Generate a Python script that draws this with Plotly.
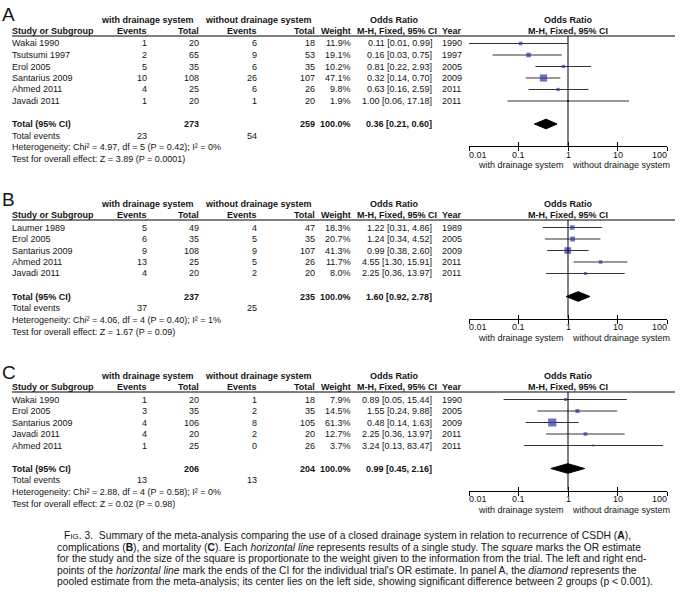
import math
import plotly.graph_objects as go

# ---------------- data ----------------
A_study = ["Wakai 1990", "Tsutsumi 1997", "Erol 2005", "Santarius 2009", "Ahmed 2011", "Javadi 2011"]
A_ev_with = [1, 2, 5, 10, 4, 1]
A_tot_with = [20, 65, 35, 108, 25, 20]
A_ev_wo = [6, 9, 6, 26, 6, 1]
A_tot_wo = [18, 53, 35, 107, 26, 20]
A_weight = [11.9, 19.1, 10.2, 47.1, 9.8, 1.9]
A_or = [0.11, 0.16, 0.81, 0.32, 0.63, 1.00]
A_lo = [0.01, 0.03, 0.22, 0.14, 0.16, 0.06]
A_hi = [0.99, 0.75, 2.93, 0.70, 2.59, 17.18]
A_year = [1990, 1997, 2005, 2009, 2011, 2011]
A_pooled = [0.36, 0.21, 0.60]
A_het = "Heterogeneity: Chi² = 4.97, df = 5 (P = 0.42); I² = 0%"
A_test = "Test for overall effect: Z = 3.89 (P = 0.0001)"

B_study = ["Laumer 1989", "Erol 2005", "Santarius 2009", "Ahmed 2011", "Javadi 2011"]
B_ev_with = [5, 6, 9, 13, 4]
B_tot_with = [49, 35, 108, 25, 20]
B_ev_wo = [4, 5, 9, 5, 2]
B_tot_wo = [47, 35, 107, 26, 20]
B_weight = [18.3, 20.7, 41.3, 11.7, 8.0]
B_or = [1.22, 1.24, 0.99, 4.55, 2.25]
B_lo = [0.31, 0.34, 0.38, 1.30, 0.36]
B_hi = [4.86, 4.52, 2.60, 15.91, 13.97]
B_year = [1989, 2005, 2009, 2011, 2011]
B_pooled = [1.60, 0.92, 2.78]
B_het = "Heterogeneity: Chi² = 4.06, df = 4 (P = 0.40); I² = 1%"
B_test = "Test for overall effect: Z = 1.67 (P = 0.09)"

C_study = ["Wakai 1990", "Erol 2005", "Santarius 2009", "Javadi 2011", "Ahmed 2011"]
C_ev_with = [1, 3, 4, 4, 1]
C_tot_with = [20, 35, 106, 20, 25]
C_ev_wo = [1, 2, 8, 2, 0]
C_tot_wo = [18, 35, 105, 20, 26]
C_weight = [7.9, 14.5, 61.3, 12.7, 3.7]
C_or = [0.89, 1.55, 0.48, 2.25, 3.24]
C_lo = [0.05, 0.24, 0.14, 0.36, 0.13]
C_hi = [15.44, 9.88, 1.63, 13.97, 83.47]
C_year = [1990, 2005, 2009, 2011, 2011]
C_pooled = [0.99, 0.45, 2.16]
C_het = "Heterogeneity: Chi² = 2.88, df = 4 (P = 0.58); I² = 0%"
C_test = "Test for overall effect: Z = 0.02 (P = 0.98)"

tick_vals = [0.01, 0.1, 1, 10, 100]
tick_text = ["0.01", "0.1", "1", "10", "100"]
null_value = 1
favours = ["with drainage system", "without drainage system"]

caption_lines = [
    "F<span style='font-size:8px'>IG</span>. 3.  Summary of the meta-analysis comparing the use of a closed drainage system in relation to recurrence of CSDH (<b>A</b>),",
    "complications (<b>B</b>), and mortality (<b>C</b>). Each <i>horizontal line</i> represents results of a single study. The <i>square</i> marks the OR estimate",
    "for the study and the size of the square is proportionate to the weight given to the information from the trial. The left and right end-",
    "points of the <i>horizontal line</i> mark the ends of the CI for the individual trial's OR estimate. In panel A, the <i>diamond</i> represents the",
    "pooled estimate from the meta-analysis; its center lies on the left side, showing significant difference between 2 groups (p &lt; 0.001).",
]

# ---------------- layout geometry ----------------
W, H = 694, 596
FONT = "Arial, Liberation Sans, Helvetica, sans-serif"
TXT = "#141414"
SQ = "#2E3A9B"
FS = 9
ROW_SP = 11.5
FX0, FX1 = 469, 667
LX0, LX1 = 12, 675
C_STUDY, C_EV1, C_TOT1, C_EV2, C_TOT2, C_WT, C_OR, C_YEAR = 12, 147, 199, 257, 315, 351, 432, 442
H1_WITH, H1_WO, H1_OR = 147, 258, 394


def px(x):
    return x / W


def py(y):
    return 1 - y / H


panels = [
    dict(letter="A", L=36, letter_y=14, study=A_study, ev1=A_ev_with, t1=A_tot_with, ev2=A_ev_wo, t2=A_tot_wo,
         w=A_weight, orr=A_or, lo=A_lo, hi=A_hi, year=A_year, pooled=A_pooled, het=A_het, test=A_test),
    dict(letter="B", L=220, letter_y=200, study=B_study, ev1=B_ev_with, t1=B_tot_with, ev2=B_ev_wo, t2=B_tot_wo,
         w=B_weight, orr=B_or, lo=B_lo, hi=B_hi, year=B_year, pooled=B_pooled, het=B_het, test=B_test),
    dict(letter="C", L=392, letter_y=372, study=C_study, ev1=C_ev_with, t1=C_tot_with, ev2=C_ev_wo, t2=C_tot_wo,
         w=C_weight, orr=C_or, lo=C_lo, hi=C_hi, year=C_year, pooled=C_pooled, het=C_het, test=C_test),
]

fig = go.Figure()
annotations = []
shapes = []
layout_axes = {}


def txt(s, x, y, anchor="left", bold=False, size=FS):
    annotations.append(dict(
        text=("<b>%s</b>" % s) if bold else s, x=px(x), y=py(y), xref="paper", yref="paper",
        xanchor=anchor, yanchor="middle", showarrow=False, borderpad=0, borderwidth=0,
        font=dict(family=FONT, size=size, color=TXT)))


for k, p in enumerate(panels, start=1):
    L = p["L"]
    row0 = L + 7.5
    n = len(p["study"])
    total_r = n + 1

    def rowpx(r):
        return row0 + r * ROW_SP

    total_px = rowpx(total_r)
    axis_px = total_px + 22
    xa = "x" if k == 1 else "x%d" % k
    ya = "y" if k == 1 else "y%d" % k
    xo = "x%d" % (k + 3)

    layout_axes["yaxis" if k == 1 else "yaxis%d" % k] = dict(
        domain=[py(axis_px), py(L)], range=[(axis_px - row0) / ROW_SP, (L - row0) / ROW_SP],
        visible=False, showgrid=False, zeroline=False, fixedrange=True)
    layout_axes["xaxis" if k == 1 else "xaxis%d" % k] = dict(
        domain=[px(FX0), px(FX1)], type="log", range=[-2, 2], anchor=ya,
        tickvals=tick_vals, ticks="inside", ticklen=4, tickwidth=1, tickcolor="black", showticklabels=False,
        showline=True, linecolor="black", linewidth=1, showgrid=False, zeroline=False, fixedrange=True)
    layout_axes["xaxis%d" % (k + 3)] = dict(
        overlaying=xa, type="log", range=[-2, 2], anchor=ya, domain=[px(FX0), px(FX1)],
        tickvals=tick_vals, ticks="outside", ticklen=4, tickwidth=1, tickcolor="black",
        showticklabels=False, showline=False, showgrid=False, zeroline=False, fixedrange=True)

    rows = list(range(n))
    # CI lines
    cx, cy = [], []
    for i in rows:
        cx += [p["lo"][i], p["hi"][i], None]
        cy += [i, i, None]
    fig.add_trace(go.Scatter(x=cx, y=cy, mode="lines", line=dict(color="#333333", width=1),
                             xaxis=xa, yaxis=ya, hoverinfo="skip", showlegend=False))
    # null line
    fig.add_trace(go.Scatter(x=[null_value, null_value], y=[(L - row0) / ROW_SP, (axis_px - row0) / ROW_SP],
                             mode="lines", line=dict(color="black", width=1),
                             xaxis=xo, yaxis=ya, hoverinfo="skip", showlegend=False))
    # squares
    fig.add_trace(go.Scatter(x=p["orr"], y=rows, mode="markers",
                             marker=dict(symbol="square", color=SQ,
                                         size=[max(2.2, math.sqrt(w) * 1.05) for w in p["w"]],
                                         line=dict(width=0)),
                             xaxis=xa, yaxis=ya, hoverinfo="skip", showlegend=False))
    # diamond
    est, lo, hi = p["pooled"]
    hh = 0.42
    fig.add_trace(go.Scatter(x=[lo, est, hi, est, lo], y=[total_r, total_r - hh, total_r, total_r + hh, total_r],
                             mode="lines", fill="toself", fillcolor="black", line=dict(color="black", width=1),
                             xaxis=xa, yaxis=ya, hoverinfo="skip", showlegend=False))

    # tick labels (end labels kept inside the axis extent)
    for j, (tv, tt) in enumerate(zip(tick_vals, tick_text)):
        anc = "left" if j == 0 else ("right" if j == len(tick_vals) - 1 else "center")
        annotations.append(dict(text=tt, x=math.log10(tv), xref=xa, y=py(axis_px + 8.5), yref="paper",
                                xanchor=anc, yanchor="middle", showarrow=False, borderpad=0, borderwidth=0,
                                font=dict(family=FONT, size=FS, color=TXT)))
    fav_y = py(axis_px + 19)
    annotations.append(dict(text=favours[0], x=math.log10(null_value), xref=xa, xshift=-4, y=fav_y, yref="paper",
                            xanchor="right", yanchor="middle", showarrow=False, borderpad=0, borderwidth=0,
                            font=dict(family=FONT, size=FS, color=TXT)))
    annotations.append(dict(text=favours[1], x=math.log10(null_value), xref=xa, xshift=4, y=fav_y, yref="paper",
                            xanchor="left", yanchor="middle", showarrow=False, borderpad=0, borderwidth=0,
                            font=dict(family=FONT, size=FS, color=TXT)))

    # header line
    shapes.append(dict(type="line", xref="paper", yref="paper", x0=px(LX0), x1=px(LX1), y0=py(L), y1=py(L),
                       line=dict(color="black", width=1)))

    # texts
    txt(p["letter"], 2, p["letter_y"], size=19)
    h1 = L - 16
    h2 = L - 5
    x_one = FX0 + (FX1 - FX0) * (math.log10(null_value) + 2) / 4
    txt("with drainage system", H1_WITH, h1, "center", True)
    txt("without drainage system", H1_WO, h1, "center", True)
    txt("Odds Ratio", H1_OR, h1, "center", True)
    txt("Odds Ratio", x_one, h1, "center", True)
    txt("Study or Subgroup", C_STUDY, h2, "left", True)
    txt("Events", C_EV1, h2, "right", True)
    txt("Total", C_TOT1, h2, "right", True)
    txt("Events", C_EV2, h2, "right", True)
    txt("Total", C_TOT2, h2, "right", True)
    txt("Weight", C_WT, h2, "right", True)
    txt("M-H, Fixed, 95% CI", 397, h2, "center", True)
    txt("Year", C_YEAR, h2, "left", True)
    txt("M-H, Fixed, 95% CI", x_one, h2, "center", True)

    for i in rows:
        y = rowpx(i)
        txt(p["study"][i], C_STUDY, y)
        txt(str(p["ev1"][i]), C_EV1, y, "right")
        txt(str(p["t1"][i]), C_TOT1, y, "right")
        txt(str(p["ev2"][i]), C_EV2, y, "right")
        txt(str(p["t2"][i]), C_TOT2, y, "right")
        txt("%.1f%%" % p["w"][i], C_WT, y, "right")
        txt("%.2f [%.2f, %.2f]" % (p["orr"][i], p["lo"][i], p["hi"][i]), C_OR, y, "right")
        txt(str(p["year"][i]), C_YEAR, y, "left")

    txt("Total (95% CI)", C_STUDY, total_px, "left", True)
    txt(str(sum(p["t1"])), C_TOT1, total_px, "right", True)
    txt(str(sum(p["t2"])), C_TOT2, total_px, "right", True)
    txt("100.0%", C_WT, total_px, "right", True)
    txt("%.2f [%.2f, %.2f]" % (est, lo, hi), C_OR, total_px, "right", True)
    ev_px = total_px + 11.5
    txt("Total events", C_STUDY, ev_px)
    txt(str(sum(p["ev1"])), C_EV1, ev_px, "right")
    txt(str(sum(p["ev2"])), C_EV2, ev_px, "right")
    txt(p["het"], C_STUDY, total_px + 23)
    txt(p["test"], C_STUDY, total_px + 35)

# caption
cap_y = [535, 547, 558.5, 570, 581.5]
for j, line in enumerate(caption_lines):
    txt(line, 64 if j == 0 else 57, cap_y[j], "left", size=10.3)

fig.update_layout(
    width=W, height=H, autosize=False,
    margin=dict(l=0, r=0, t=0, b=0),
    paper_bgcolor="white", plot_bgcolor="rgba(0,0,0,0)",
    showlegend=False,
    annotations=annotations, shapes=shapes,
    **layout_axes,
)

fig.write_html("out.html", config={"displayModeBar": False},
               post_script="document.body.style.margin='0px';")
